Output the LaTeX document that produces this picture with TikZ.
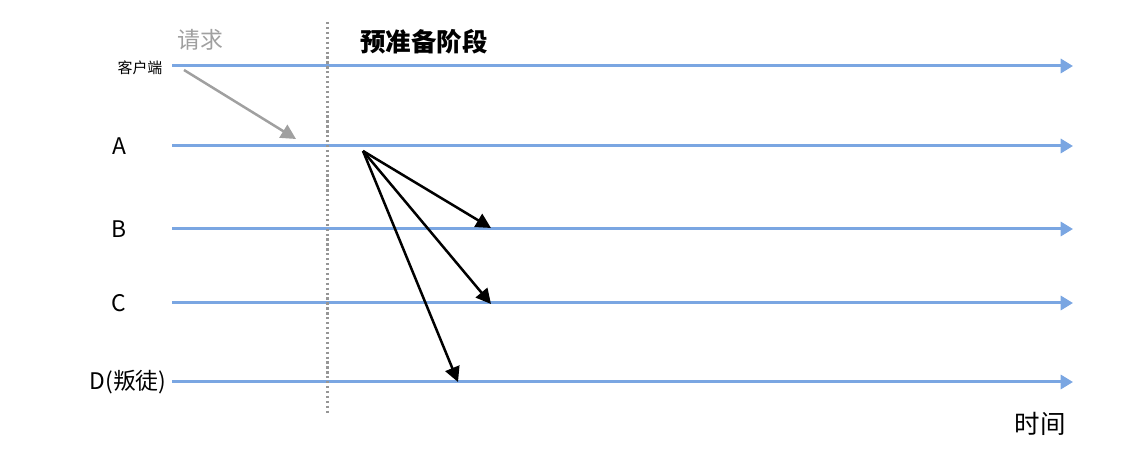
\documentclass[tikz,border=0pt]{standalone}
\usepackage{fontspec}
\usepackage{xcolor}
\usetikzlibrary{arrows.meta}
\newfontfamily\cjk{Noto Sans CJK SC}
\definecolor{lineblue}{RGB}{122,166,226}
\definecolor{request}{RGB}{160,160,160}
\definecolor{divider}{RGB}{150,150,150}
\tikzstyle{party}=[font=\cjk\fontsize{13}{15}\selectfont]
\tikzstyle{small}=[font=\cjk\fontsize{8.5}{10}\selectfont]
\tikzset{timeline/.style={-{Triangle[length=7pt,width=8pt]}, line width=0.6mm, color=lineblue}}
\tikzset{message/.style={-{Triangle[length=8.5pt,width=8.5pt]}, line width=0.5mm}}

\begin{document}
\begin{tikzpicture}[x=0.02cm,y=-0.02cm]
  \useasboundingbox (0,0) rectangle (1142,455);

  %% Parties
  \draw (140,68) node[small] (T0) {客户端};
  \draw (119,146) node[party] (T1) {A};
  \draw (119,229) node[party] (T2) {B};
  \draw (119,303) node[party] (T3) {C};
  \draw (128,382) node[party] (T4) {D(叛徒)};

  \coordinate (S0) at (172,66);  \coordinate (E0) at (1073,66);
  \coordinate (S1) at (172,146); \coordinate (E1) at (1073,146);
  \coordinate (S2) at (172,229); \coordinate (E2) at (1073,229);
  \coordinate (S3) at (172,303); \coordinate (E3) at (1073,303);
  \coordinate (S4) at (172,382); \coordinate (E4) at (1073,382);

  \draw[timeline] (S0) -- (E0);
  \draw[timeline] (S1) -- (E1);
  \draw[timeline] (S2) -- (E2);
  \draw[timeline] (S3) -- (E3);
  \draw[timeline] (S4) -- (E4);

  %% Phases
  \coordinate (V1) at (327,22);
  \coordinate (V2) at (327,414);
  \draw[divider, line width=0.6mm, dash pattern=on 1.3pt off 1.5pt] (V1) -- (V2);
  \draw (200,40) node[party, text=request, font=\cjk\fontsize{13}{15}\selectfont] (R) {请求};
  \draw (424,42) node[party, font=\cjk\bfseries\fontsize{14.5}{16}\selectfont] (P) {预准备阶段};

  %% Messages
  \coordinate (C0) at (184,70);
  \coordinate (C1) at (296,139);
  \draw[message, color=request] (C0) -- (C1);

  \coordinate (Q) at (363,151);
  \coordinate (QB) at (491,228);
  \coordinate (QC) at (491,304);
  \coordinate (QD) at (458,382);
  \draw[message] (Q) -- (QB);
  \draw[message] (Q) -- (QC);
  \draw[message] (Q) -- (QD);

  %% Time
  \draw (1040,424) node[party, font=\cjk\fontsize{14.5}{16}\selectfont] (T) {时间};
\end{tikzpicture}
\end{document}
